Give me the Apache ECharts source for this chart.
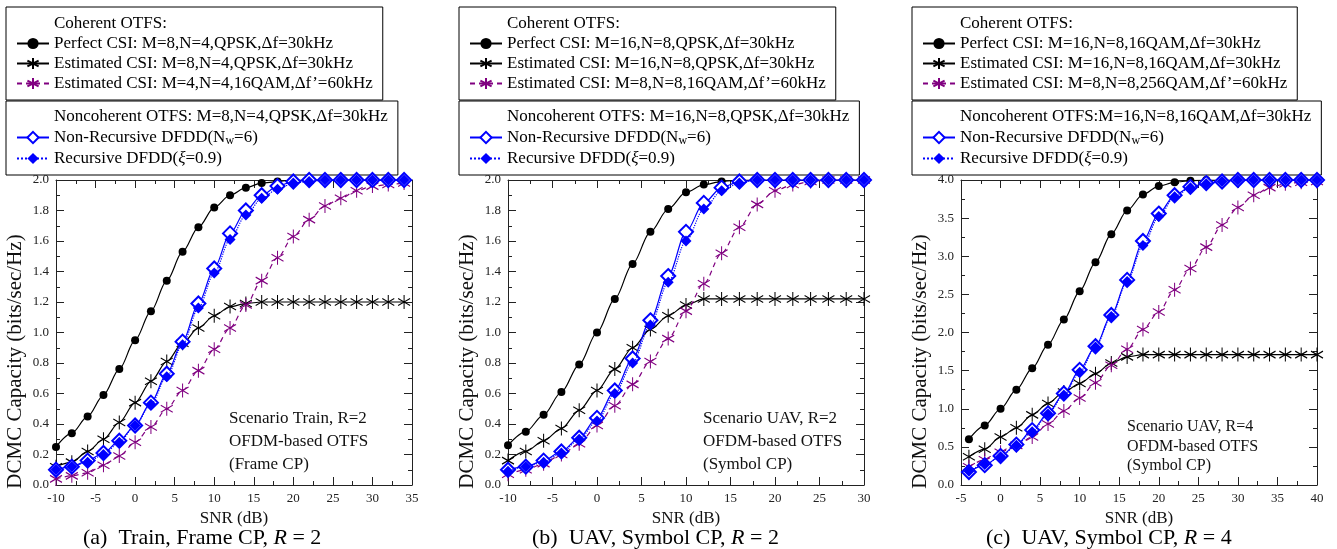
<!DOCTYPE html>
<html>
<head>
<meta charset="utf-8">
<script src="https://cdn.jsdelivr.net/npm/echarts@6/dist/echarts.min.js"></script>
<style>
html,body{margin:0;padding:0;background:#fff;}
#chart{width:1337px;height:549px;}
</style>
</head>
<body>
<div id="chart"></div>
<script>
// ---------- DATA ----------
const snrA = [-10,-8,-6,-4,-2,0,2,4,6,8,10,12,14,16,18,20,22,24,26,28,30,32,34];
const perfectA = [0.25,0.34,0.45,0.59,0.76,0.95,1.14,1.34,1.53,1.69,1.82,1.90,1.95,1.98,1.99,2.0,2.0,2.0,2.0,2.0,2.0,2.0,2.0];
const estA     = [0.12,0.15,0.22,0.30,0.41,0.54,0.68,0.81,0.93,1.03,1.11,1.17,1.19,1.20,1.20,1.20,1.20,1.20,1.20,1.20,1.20,1.20,1.20];
const est2A    = [0.04,0.06,0.08,0.13,0.19,0.28,0.38,0.50,0.62,0.75,0.89,1.03,1.18,1.34,1.49,1.63,1.74,1.83,1.88,1.93,1.96,1.97,1.98];
const nonRecA  = [0.10,0.12,0.16,0.21,0.29,0.39,0.54,0.73,0.94,1.19,1.42,1.65,1.80,1.90,1.96,1.99,2.0,2.0,2.0,2.0,2.0,2.0,2.0];
const recA     = [0.10,0.12,0.15,0.20,0.28,0.39,0.53,0.71,0.92,1.16,1.39,1.61,1.77,1.88,1.94,1.98,1.99,2.0,2.0,2.0,2.0,2.0,2.0];

const snrB = [-10,-8,-6,-4,-2,0,2,4,6,8,10,12,14,16,18,20,22,24,26,28,30];
const perfectB = [0.26,0.35,0.46,0.61,0.79,1.00,1.22,1.45,1.66,1.81,1.92,1.97,1.99,2.0,2.0,2.0,2.0,2.0,2.0,2.0,2.0];
const estB     = [0.16,0.22,0.29,0.37,0.49,0.62,0.76,0.90,1.02,1.11,1.18,1.22,1.22,1.22,1.22,1.22,1.22,1.22,1.22,1.22,1.22];
const est2B    = [0.07,0.10,0.14,0.20,0.27,0.39,0.52,0.66,0.81,0.96,1.14,1.32,1.52,1.69,1.84,1.93,1.97,1.99,2.0,2.0,2.0];
const nonRecB  = [0.10,0.12,0.16,0.22,0.31,0.44,0.62,0.83,1.08,1.37,1.66,1.85,1.95,1.99,2.0,2.0,2.0,2.0,2.0,2.0,2.0];
const recB     = [0.09,0.12,0.15,0.21,0.30,0.42,0.60,0.80,1.05,1.33,1.60,1.81,1.93,1.98,2.0,2.0,2.0,2.0,2.0,2.0,2.0];

const snrC = [-4,-2,0,2,4,6,8,10,12,14,16,18,20,22,24,26,28,30,32,34,36,38,40];
const perfectC = [0.60,0.78,1.00,1.25,1.53,1.84,2.17,2.54,2.92,3.29,3.60,3.81,3.92,3.97,3.99,4.0,4.0,4.0,4.0,4.0,4.0,4.0,4.0];
const estC     = [0.37,0.47,0.63,0.75,0.92,1.07,1.22,1.33,1.46,1.60,1.68,1.71,1.71,1.71,1.71,1.71,1.71,1.71,1.71,1.71,1.71,1.71,1.71];
const est2C    = [0.24,0.33,0.43,0.52,0.63,0.80,0.97,1.14,1.34,1.57,1.78,2.04,2.27,2.56,2.84,3.12,3.41,3.64,3.80,3.90,3.95,3.97,3.98];
const nonRecC  = [0.17,0.26,0.38,0.53,0.72,0.94,1.20,1.51,1.82,2.23,2.69,3.20,3.56,3.80,3.91,3.96,3.98,4.0,4.0,4.0,4.0,4.0,4.0];
const recC     = [0.18,0.27,0.37,0.52,0.70,0.93,1.18,1.48,1.81,2.21,2.67,3.14,3.52,3.78,3.90,3.95,3.98,4.0,4.0,4.0,4.0,4.0,4.0];

// axis ranges / tick intervals
const xRanges = [[-10,35],[-10,30],[-5,40]];
const yRanges = [[0,2,0.2],[0,2,0.2],[0,4,0.5]];

// legend texts
const legendA1 = ['Coherent OTFS:','Perfect CSI: M=8,N=4,QPSK,\u0394f=30kHz','Estimated CSI: M=8,N=4,QPSK,\u0394f=30kHz','Estimated CSI: M=4,N=4,16QAM,\u0394f\u2019=60kHz'];
const legendA2 = ['Noncoherent OTFS: M=8,N=4,QPSK,\u0394f=30kHz'];
const legendB1 = ['Coherent OTFS:','Perfect CSI: M=16,N=8,QPSK,\u0394f=30kHz','Estimated CSI: M=16,N=8,QPSK,\u0394f=30kHz','Estimated CSI: M=8,N=8,16QAM,\u0394f\u2019=60kHz'];
const legendB2 = ['Noncoherent OTFS: M=16,N=8,QPSK,\u0394f=30kHz'];
const legendC1 = ['Coherent OTFS:','Perfect CSI: M=16,N=8,16QAM,\u0394f=30kHz','Estimated CSI: M=16,N=8,16QAM,\u0394f=30kHz','Estimated CSI: M=8,N=8,256QAM,\u0394f\u2019=60kHz'];
const legendC2 = ['Noncoherent OTFS:M=16,N=8,16QAM,\u0394f=30kHz'];
const nonRecLabel = 'Non-Recursive DFDD(N{sub|w}=6)';
const recLabel = 'Recursive DFDD({it|\u03BE}=0.9)';

const scenarioTexts = [
  ['Scenario Train, R=2','OFDM-based OTFS','(Frame CP)'],
  ['Scenario UAV, R=2','OFDM-based OTFS','(Symbol CP)'],
  ['Scenario UAV, R=4','OFDM-based OTFS','(Symbol CP)']
];
const captions = [
  '(a)  Train, Frame CP, {i|R} = 2',
  '(b)  UAV, Symbol CP, {i|R} = 2',
  '(c)  UAV, Symbol CP, {i|R} = 4'
];

// ---------- STYLE / LAYOUT ----------
const FONT = '"Liberation Serif", "DejaVu Serif", serif';
const STAR = 'path://M6,0L6,14M0,3.5L12,10.5M0,10.5L12,3.5';
const grids = [
  {left:56, top:180, width:356, height:305},
  {left:508, top:180, width:356, height:305},
  {left:961, top:180, width:356, height:305}
];
const legendPos = [
  [{left:6, top:7},{left:6, top:101}],
  [{left:459, top:7},{left:459, top:101}],
  [{left:912, top:7},{left:912, top:101}]
];
const scenarioPos = [
  {x:229, y:[419,442,465], size:17},
  {x:703, y:[419,442,465], size:17},
  {x:1127, y:[427,447,466], size:16}
];
const captionPos = [{x:83, y:538},{x:532, y:538},{x:986, y:538}];

const LABELS = {};
const xAxes = [], yAxes = [], series = [], legends = [], graphics = [];

const axisColor = '#222';
function xAxis(g, pos){
  const r = xRanges[g];
  return {
    type:'value', gridIndex:g, position:pos, min:r[0], max:r[1], interval:5,
    axisLine:{show:true, onZero:false, lineStyle:{color:axisColor, width:1}},
    axisTick:{show:true, inside:true, length:8, lineStyle:{color:axisColor}},
    minorTick:{show:true, splitNumber:2, length:4, lineStyle:{color:axisColor}},
    splitLine:{show:false},
    axisLabel:{show:pos==='bottom', fontFamily:FONT, fontSize:13, color:'#222', margin:7},
    name: pos==='bottom' ? 'SNR (dB)' : '',
    nameLocation:'middle', nameGap:24,
    nameTextStyle:{fontFamily:FONT, fontSize:17, color:'#111'}
  };
}
function yAxis(g, pos){
  const r = yRanges[g];
  return {
    type:'value', gridIndex:g, position:pos, min:r[0], max:r[1], interval:r[2],
    axisLine:{show:true, onZero:false, lineStyle:{color:axisColor, width:1}},
    axisTick:{show:true, inside:true, length:8, lineStyle:{color:axisColor}},
    minorTick:{show:true, splitNumber:2, length:4, lineStyle:{color:axisColor}},
    splitLine:{show:false},
    axisLabel:{show:pos==='left', fontFamily:FONT, fontSize:13, color:'#222', margin:7,
      formatter:v=>v.toFixed(1)},
    name: pos==='left' ? 'DCMC Capacity (bits/sec/Hz)' : '',
    nameLocation:'middle', nameGap:30,
    nameTextStyle:{fontFamily:FONT, fontSize:21, color:'#111', padding:[0,58,0,0]}
  };
}

function pairs(xs, ys){ return xs.map((x,i)=>[x, ys[i]]); }

const panelData = [
  {snr:snrA, perfect:perfectA, est:estA, est2:est2A, nonRec:nonRecA, rec:recA, l1:legendA1, l2:legendA2},
  {snr:snrB, perfect:perfectB, est:estB, est2:est2B, nonRec:nonRecB, rec:recB, l1:legendB1, l2:legendB2},
  {snr:snrC, perfect:perfectC, est:estC, est2:est2C, nonRec:nonRecC, rec:recC, l1:legendC1, l2:legendC2}
];

const rich = {
  sub:{fontFamily:FONT, fontSize:12, color:'#000', lineHeight:7, padding:[7,0,0,0]},
  it:{fontFamily:FONT, fontSize:17, color:'#000', fontStyle:'italic'}
};

panelData.forEach((p, g)=>{
  xAxes.push(xAxis(g,'bottom'));
  xAxes.push(xAxis(g,'top'));
  yAxes.push(yAxis(g,'left'));
  yAxes.push(yAxis(g,'right'));
  const xi = g*2, yi = g*2;
  const base = {type:'line', xAxisIndex:xi, yAxisIndex:yi, smooth:0.3, smoothMonotone:'x', animation:false};
  const id = 'abc'[g];
  const names = {
    h1:id+'_h1', perfect:id+'_perfect', est:id+'_est', est2:id+'_est2',
    h2:id+'_h2', nonRec:id+'_nonrec', rec:id+'_rec'
  };
  LABELS[names.h1] = p.l1[0];
  LABELS[names.perfect] = p.l1[1];
  LABELS[names.est] = p.l1[2];
  LABELS[names.est2] = p.l1[3];
  LABELS[names.h2] = p.l2[0];
  LABELS[names.nonRec] = nonRecLabel;
  LABELS[names.rec] = recLabel;

  const hidden = {type:'line', xAxisIndex:xi, yAxisIndex:yi, data:[], symbol:'none',
    lineStyle:{color:'rgba(0,0,0,0)', opacity:0, width:0}, itemStyle:{color:'rgba(0,0,0,0)', opacity:0}};
  series.push(Object.assign({}, hidden, {name:names.h1}));
  series.push(Object.assign({}, hidden, {name:names.h2}));

  series.push(Object.assign({}, base, {
    name:names.perfect, data:pairs(p.snr,p.perfect), symbol:'circle', symbolSize:8,
    itemStyle:{color:'#000'}, lineStyle:{color:'#000', width:1.2}, z:2
  }));
  series.push(Object.assign({}, base, {
    name:names.est, data:pairs(p.snr,p.est), symbol:STAR, symbolSize:[12,14],
    itemStyle:{color:'#000', borderColor:'#000', borderWidth:1.1}, lineStyle:{color:'#000', width:1.2}, z:3
  }));
  series.push(Object.assign({}, base, {
    name:names.est2, data:pairs(p.snr,p.est2), symbol:STAR, symbolSize:[12,14],
    itemStyle:{color:'#800080', borderColor:'#800080', borderWidth:1.1},
    lineStyle:{color:'#800080', width:1.2, type:[5,4]}, z:4
  }));
  series.push(Object.assign({}, base, {
    name:names.nonRec, data:pairs(p.snr,p.nonRec), symbol:'emptyDiamond', symbolSize:14,
    itemStyle:{color:'#0000ff', borderColor:'#0000ff', borderWidth:1.3},
    lineStyle:{color:'#0000ff', width:1.2}, z:5
  }));
  series.push(Object.assign({}, base, {
    name:names.rec, data:pairs(p.snr,p.rec), symbol:'diamond', symbolSize:11,
    itemStyle:{color:'#0000ff'}, lineStyle:{color:'#0000ff', width:1.2, type:'dotted'}, z:6
  }));

  const legBase = {
    orient:'vertical', selectedMode:false, itemWidth:32, itemHeight:14, itemGap:3,
    borderColor:'#000', borderWidth:1, borderRadius:0, backgroundColor:'#fff',
    textStyle:{fontFamily:FONT, fontSize:17, color:'#000', rich:rich},
    formatter:name=>LABELS[name]
  };
  legends.push(Object.assign({}, legBase, legendPos[g][0], {
    padding:[8,10,8,10], data:[names.h1, names.perfect, names.est, names.est2]
  }));
  legends.push(Object.assign({}, legBase, legendPos[g][1], {
    padding:[7,10,8,10], data:[names.h2, names.nonRec, names.rec]
  }));

  const sp = scenarioPos[g];
  scenarioTexts[g].forEach((t, k)=>{
    graphics.push({type:'text', x:sp.x, y:sp.y[k], z:10,
      style:{text:t, fontFamily:FONT, fontSize:sp.size, fill:'#111', textVerticalAlign:'middle'}});
  });
  const cp = captionPos[g];
  graphics.push({type:'text', x:cp.x, y:cp.y, z:10,
    style:{text:captions[g], fontFamily:FONT, fontSize:22, fill:'#000', textVerticalAlign:'middle',
      rich:{i:{fontFamily:FONT, fontSize:22, fontStyle:'italic', fill:'#000'}}}});
});

const chart = echarts.init(document.getElementById('chart'), null, {renderer:'canvas'});
chart.setOption({
  animation:false,
  backgroundColor:'#fff',
  grid:grids,
  xAxis:xAxes,
  yAxis:yAxes,
  legend:legends,
  series:series,
  graphic:graphics
});
</script>
</body>
</html>
